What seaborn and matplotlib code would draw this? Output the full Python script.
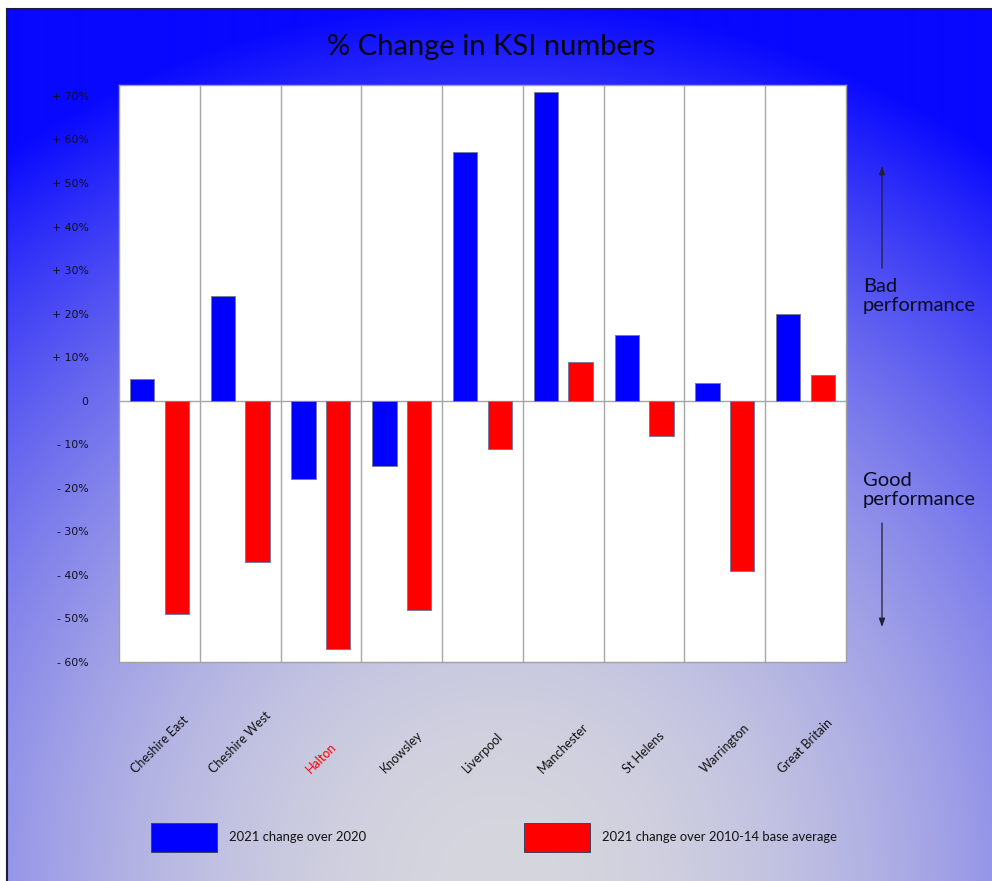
import numpy as np
import pandas as pd
import matplotlib
matplotlib.use("Agg")
import matplotlib.pyplot as plt
from matplotlib.patches import FancyArrowPatch
from matplotlib.transforms import blended_transform_factory
import seaborn as sns

# ---- data -------------------------------------------------------------
areas = ["Cheshire East", "Cheshire West", "Halton", "Knowsley", "Liverpool",
         "Manchester", "St Helens", "Warrington", "Great Britain"]
change_vs_2020 = [5, 24, -18, -15, 57, 71, 15, 4, 20]
change_vs_base = [-49, -37, -57, -48, -11, 9, -8, -39, 6]
series_names = ["2021 change over 2020", "2021 change over 2010-14 base average"]
series_colors = ["#0000ff", "#ff0000"]
highlight_area = "Halton"
y_ticks = [70, 60, 50, 40, 30, 20, 10, 0, -10, -20, -30, -40, -50, -60]


def pct_label(v):
    if v > 0:
        return f"+ {v}%"
    if v < 0:
        return f"- {abs(v)}%"
    return "0"


df = pd.DataFrame({
    "area": areas * 2,
    "series": [series_names[0]] * len(areas) + [series_names[1]] * len(areas),
    "pct": change_vs_2020 + change_vs_base,
})

plt.rcParams["font.family"] = ["Lato", "DejaVu Sans"]

W_PX, H_PX = 992, 881
fig = plt.figure(figsize=(W_PX / 100, H_PX / 100), dpi=100)

# ---- slide background: radial blue-to-grey wash -------------------------
bg = fig.add_axes([7 / W_PX, 0, (W_PX - 7) / W_PX, (H_PX - 9) / H_PX], zorder=-10)
gh, gw = 436, 493
yy, xx = np.mgrid[0:gh, 0:gw]
pw, ph = W_PX - 7, H_PX - 9
px = (xx + 0.5) / gw * pw
py = (yy + 0.5) / gh * ph
dist = np.sqrt((px - pw / 2) ** 2 + (ph - py) ** 2)
t = np.clip((dist / 880) ** 2, 0, 1)[..., None]
light = np.array([214, 214, 222]) / 255
deep = np.array([8, 8, 255]) / 255
bg.imshow(light * (1 - t) + deep * t, aspect="auto", extent=[0, 1, 0, 1],
          origin="upper", interpolation="bilinear")
bg.set_xlim(0, 1)
bg.set_ylim(0, 1)
bg.set_xticks([])
bg.set_yticks([])
for side in ("bottom", "right"):
    bg.spines[side].set_visible(False)
for side in ("top", "left"):
    bg.spines[side].set_color("#1c1c3c")
    bg.spines[side].set_linewidth(1.5)

# ---- chart ------------------------------------------------------------
ax = fig.add_axes([119 / W_PX, 1 - 662 / H_PX, 727 / W_PX, 577 / H_PX])
ax.set_facecolor("white")
sns.barplot(data=df, x="area", y="pct", hue="series", order=areas,
            hue_order=series_names, palette=dict(zip(series_names, series_colors)),
            saturation=1, width=0.86, gap=0.3, edgecolor="#7a7aa0", linewidth=0.7,
            errorbar=None, legend=True, ax=ax, zorder=3)

ax.set_xlim(-0.5, len(areas) - 0.5)
ax.set_ylim(-60, 72.5)
ax.set_yticks(y_ticks)
ax.set_yticklabels([pct_label(v) for v in y_ticks], family="DejaVu Sans",
                   fontsize=7.8, color="#10101f")
ax.tick_params(axis="y", length=0, pad=22)
ax.tick_params(axis="x", length=0, labelbottom=False)
ax.set_xlabel("")
ax.set_ylabel("")
for s in ax.spines.values():
    s.set_color("#a0a0a0")
    s.set_linewidth(1.0)
for b in np.arange(0.5, len(areas) - 0.5, 1.0):
    ax.axvline(b, color="#a6a6a6", linewidth=1.0, zorder=1)
ax.axhline(0, color="#a6a6a6", linewidth=1.0, zorder=2)

# rotated category names below the plot
trans = blended_transform_factory(ax.transData, fig.transFigure)
for i, name in enumerate(areas):
    ax.text(i, 1 - 775 / H_PX, name, rotation=45, ha="center", va="bottom",
            fontsize=9, transform=trans,
            color="#ff0000" if name == highlight_area else "#111111")

# legend laid out as two separate keys along the bottom
handles, labels = ax.get_legend_handles_labels()
ax.get_legend().remove()
leg_kw = dict(frameon=False, fontsize=9.4, handlelength=66 / 13.05,
              handleheight=39 / 13.05, handletextpad=0.9, borderpad=0,
              borderaxespad=0, loc="center left")
for h, lab, x0 in zip(handles, labels, (151, 524)):
    h.set_edgecolor("#404060")
    lg = fig.legend([h], [lab], bbox_to_anchor=(x0 / W_PX, 1 - 837.5 / H_PX), **leg_kw)
    for tx in lg.get_texts():
        tx.set_color("#111111")

# title
fig.text(491 / W_PX, 1 - 47 / H_PX, "% Change in KSI numbers", ha="center",
         va="center", fontsize=21, color="#050510")

# performance direction notes
fig.text(863 / W_PX, 1 - 296 / H_PX, "Bad\nperformance", ha="left", va="center",
         fontsize=14.5, color="#0a0a20", linespacing=1.2)
fig.text(863 / W_PX, 1 - 490 / H_PX, "Good\nperformance", ha="left", va="center",
         fontsize=14.5, color="#0a0a20", linespacing=1.2)
arrow = dict(arrowstyle="-|>,head_length=0.5,head_width=0.18", color="#202035",
             linewidth=0.9, shrinkA=0, shrinkB=0, mutation_scale=10)
fig.add_artist(FancyArrowPatch(
    (882 / W_PX, 1 - 268 / H_PX), (882 / W_PX, 1 - 166 / H_PX),
    transform=fig.transFigure, **arrow))
fig.add_artist(FancyArrowPatch(
    (882 / W_PX, 1 - 523 / H_PX), (882 / W_PX, 1 - 627 / H_PX),
    transform=fig.transFigure, **arrow))

fig.savefig("out.png", dpi=100, facecolor="white")
